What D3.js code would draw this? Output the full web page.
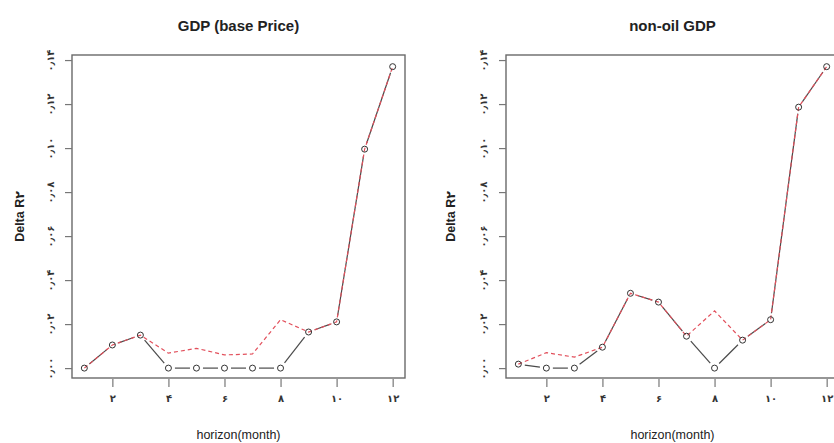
<!DOCTYPE html>
<html>
<head>
<meta charset="utf-8">
<script src="https://cdn.jsdelivr.net/npm/d3@7"></script>
<style>
  html, body { margin: 0; padding: 0; background: #fff; }
  svg { display: block; font-family: "Liberation Sans", Arial, "DejaVu Sans", sans-serif; }
</style>
</head>
<body>
<svg id="chart" width="834" height="443"></svg>
<script>
// ---- data ----
const months = [1, 2, 3, 4, 5, 6, 7, 8, 9, 10, 11, 12];
const xTicks = [2, 4, 6, 8, 10, 12];
const yTicks = [0, 0.02, 0.04, 0.06, 0.08, 0.10, 0.12, 0.14];

const panelTitles = ["GDP (base Price)", "non-oil GDP"];
const xLabel = "horizon(month)";
const yLabel = "Delta R\u06F2";

const gdpBlack = [0, 0.0105, 0.015, 0, 0, 0, 0, 0, 0.0164, 0.021, 0.0995, 0.137];
const gdpRed   = [0, 0.0105, 0.015, 0.0068, 0.009, 0.006, 0.0064, 0.022, 0.0164, 0.021, 0.0995, 0.137];
const nonOilBlack = [0.0018, 0, 0, 0.0095, 0.034, 0.030, 0.0145, 0, 0.0127, 0.022, 0.1186, 0.137];
const nonOilRed   = [0.0018, 0.007, 0.005, 0.0095, 0.034, 0.030, 0.0145, 0.026, 0.0127, 0.022, 0.1186, 0.137];

// ---- helpers ----
const faDigits = "\u06F0\u06F1\u06F2\u06F3\u06F4\u06F5\u06F6\u06F7\u06F8\u06F9";
function toFa(s) {
  return String(s).replace(/[0-9]/g, d => faDigits[+d]).replace(/\./g, "\u066B");
}

const svg = d3.select("#chart");

const panels = [
  { title: panelTitles[0], black: gdpBlack, red: gdpRed, left: 72, right: 405, ylabX: 20, yTickLabX: 50 },
  { title: panelTitles[1], black: nonOilBlack, red: nonOilRed, left: 506, right: 839, ylabX: 451, yTickLabX: 483 }
];
const plotTop = 55, plotBottom = 378;

panels.forEach(p => {
  const g = svg.append("g");
  const x = d3.scaleLinear().domain([0.56, 12.44]).range([p.left, p.right]);
  const y = d3.scaleLinear().domain([-0.0045, 0.1423]).range([plotBottom, plotTop]);

  // box
  g.append("rect")
    .attr("x", p.left).attr("y", plotTop)
    .attr("width", p.right - p.left).attr("height", plotBottom - plotTop)
    .attr("fill", "none").attr("stroke", "#6a6a6a").attr("stroke-width", 1.4);

  // x axis
  const xAxis = d3.axisBottom(x).tickValues(xTicks).tickSize(8).tickPadding(8)
    .tickFormat(d => toFa(d));
  const xg = g.append("g").attr("transform", `translate(0,${plotBottom + 1})`).call(xAxis);
  xg.select(".domain").remove();
  xg.selectAll(".tick line").attr("stroke", "#777").attr("stroke-width", 1.2);
  xg.selectAll(".tick text").attr("font-size", 10).attr("font-weight", "bold").attr("fill", "#333")
    .attr("font-family", "'DejaVu Sans', sans-serif").attr("opacity", 0.99);

  // y axis
  const yAxis = d3.axisLeft(y).tickValues(yTicks).tickSize(7).tickFormat(d => toFa(d3.format(".2f")(d)));
  const yg = g.append("g").attr("transform", `translate(${p.left},0)`).call(yAxis);
  yg.select(".domain").remove();
  yg.selectAll(".tick line").attr("stroke", "#777").attr("stroke-width", 1.2);
  yg.selectAll(".tick text")
    .attr("font-size", 10).attr("font-weight", "bold").attr("fill", "#333")
    .attr("font-family", "'DejaVu Sans', sans-serif")
    .attr("x", null).attr("dy", null)
    .attr("text-anchor", "middle")
    .attr("dominant-baseline", "central")
    .attr("transform", `translate(${p.yTickLabX - p.left},0) rotate(-90)`);

  // title
  g.append("text")
    .attr("x", (p.left + p.right) / 2).attr("y", 31)
    .attr("text-anchor", "middle").attr("font-size", 15).attr("font-weight", "bold")
    .attr("fill", "#222").text(p.title);

  // x label
  g.append("text")
    .attr("x", (p.left + p.right) / 2).attr("y", 439)
    .attr("text-anchor", "middle").attr("font-size", 12.5)
    .attr("fill", "#222").text(xLabel);

  // y label
  g.append("text")
    .attr("transform", `translate(${p.ylabX},${(plotTop + plotBottom) / 2}) rotate(-90)`)
    .attr("text-anchor", "middle").attr("dominant-baseline", "central")
    .attr("font-size", 12.5).attr("font-weight", "bold")
    .attr("fill", "#222").text(yLabel);

  // black series: type "b" (lines with gaps around points)
  const pts = months.map((m, i) => [x(m), y(p.black[i])]);
  const gap = 6.5;
  for (let i = 0; i < pts.length - 1; i++) {
    const [x0, y0] = pts[i], [x1, y1] = pts[i + 1];
    const dx = x1 - x0, dy = y1 - y0;
    const len = Math.hypot(dx, dy);
    if (len <= 2 * gap) continue;
    const ux = dx / len, uy = dy / len;
    g.append("line")
      .attr("x1", x0 + ux * gap).attr("y1", y0 + uy * gap)
      .attr("x2", x1 - ux * gap).attr("y2", y1 - uy * gap)
      .attr("stroke", "#4a4a4a").attr("stroke-width", 1.2);
  }

  // red dashed series
  const line = d3.line().x((d, i) => x(months[i])).y(d => y(d));
  g.append("path")
    .datum(p.red)
    .attr("d", line)
    .attr("fill", "none")
    .attr("stroke", "#e2505c")
    .attr("stroke-width", 1.2)
    .attr("stroke-dasharray", "4,3");

  // points
  g.selectAll("circle.pt").data(p.black).enter().append("circle")
    .attr("class", "pt")
    .attr("cx", (d, i) => x(months[i])).attr("cy", d => y(d))
    .attr("r", 3)
    .attr("fill", "none").attr("stroke", "#333").attr("stroke-width", 1);
});
</script>
</body>
</html>
